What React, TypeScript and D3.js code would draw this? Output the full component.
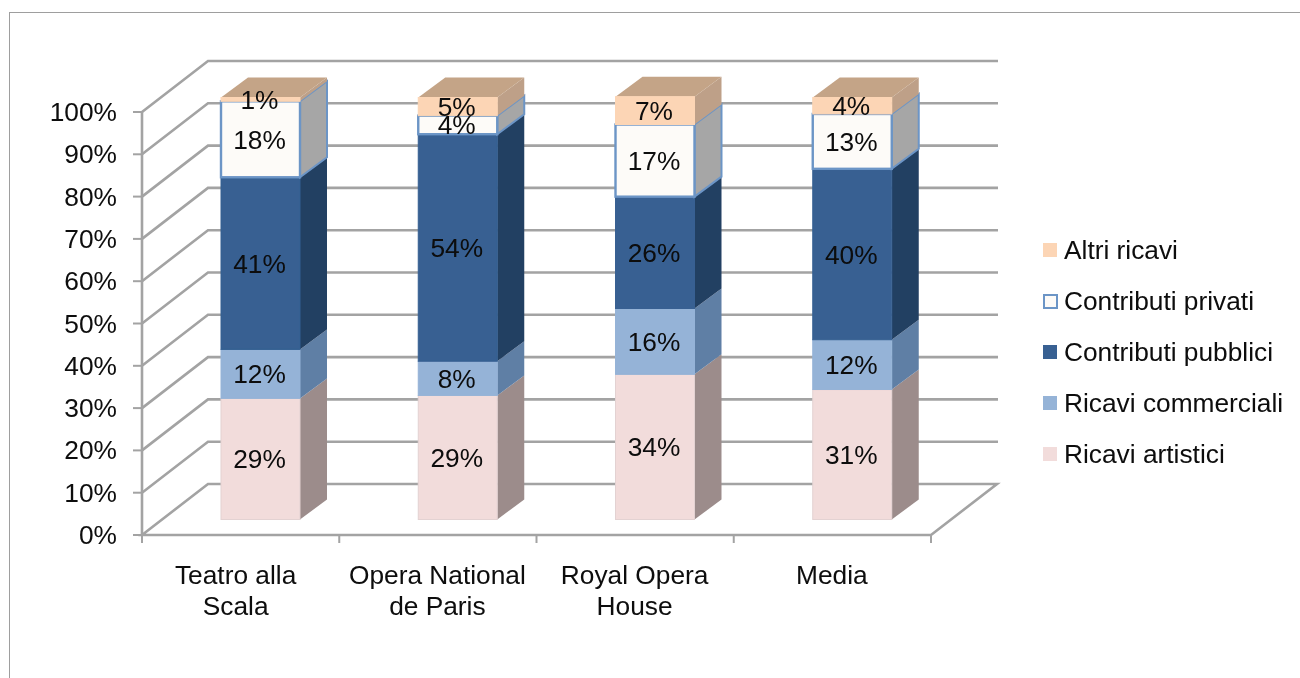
import React from "react";
import * as d3 from "d3";

const categories = [["Teatro alla", "Scala"], ["Opera National", "de Paris"], ["Royal Opera", "House"], ["Media"]];
const yTicks = [0, 10, 20, 30, 40, 50, 60, 70, 80, 90, 100];

const ricaviArtistici = [28.7, 29.4, 34.4, 30.8];
const ricaviCommerciali = [11.6, 8.1, 15.6, 11.8];
const contributiPubblici = [40.8, 53.8, 26.5, 40.5];
const contributiPrivati = [18.0, 4.4, 17.1, 13.0];
const altriRicavi = [0.9, 4.3, 6.6, 3.9];

const labelsArtistici = ["29%", "29%", "34%", "31%"];
const labelsCommerciali = ["12%", "8%", "16%", "12%"];
const labelsPubblici = ["41%", "54%", "26%", "40%"];
const labelsPrivati = ["18%", "4%", "17%", "13%"];
const labelsAltri = ["1%", "5%", "7%", "4%"];

const series = [
  { name: "Ricavi artistici", values: ricaviArtistici, labels: labelsArtistici, front: "#F2DCDB", side: "#9C8C8B", top: "#C4B0AF", stroke: "#E3D2D2" },
  { name: "Ricavi commerciali", values: ricaviCommerciali, labels: labelsCommerciali, front: "#95B3D7", side: "#5F7FA5", top: "#7090B5", stroke: "#95B3D7" },
  { name: "Contributi pubblici", values: contributiPubblici, labels: labelsPubblici, front: "#376092", side: "#233F62", top: "#2A4A72", stroke: "#376092" },
  { name: "Contributi privati", values: contributiPrivati, labels: labelsPrivati, front: "#FDFBF8", side: "#A6A6A6", top: "#C0C0C0", stroke: "#6C95C6" },
  { name: "Altri ricavi", values: altriRicavi, labels: labelsAltri, front: "#FCD5B5", side: "#BEA088", top: "#C4A487", stroke: "#FCD5B5" },
];

const FONT = "'Liberation Sans', Arial, sans-serif";
const TXT = "#0a0a0a";
const GRID = "#a3a3a3";

const y = d3.scaleLinear().domain([0, 100]).range([535, 112]);
const x = d3.scaleLinear().domain([0, 4]).range([142, 931]);
const wallDx = 66;
const wallDy = -51;
const barY = d3.scaleLinear().domain([0, 100]).range([519.5, 97.5]);
const barLeft = d3.scaleLinear().domain([0, 4]).range([221, 1010]);
const barW = 79;
const depthX = 27;
const depthY = -20;

const poly = (pts: number[][]) => (d3.line()(pts as [number, number][]) as string) + "Z";

export default function App() {
  const stacks = categories.map((_, c) => {
    let acc = 0;
    return series.map((s) => {
      const y0 = acc;
      acc += s.values[c];
      return { s, y0, y1: acc, label: s.labels[c] };
    });
  });
  return (
    <svg width={1300} height={678} style={{ position: "absolute", left: 0, top: 0, background: "#fff" }}>
      <g filter="url(#soft)">
        <defs>
          <filter id="soft" x="0" y="0" width="100%" height="100%">
            <feGaussianBlur stdDeviation="0.35" />
          </filter>
        </defs>
        <path d="M1300,12 H9 V678" fill="none" stroke="#9e9e9e" strokeWidth={2} />
        {yTicks.map((t) => (
          <g key={t} stroke={GRID} strokeWidth={2.6} fill="none">
            {t > 0 && <path d={`M${x(0)},${y(t)} L${x(0) + wallDx},${y(t) + wallDy} H${x(4) + wallDx + 1}`} />}
            <line x1={133} x2={x(0)} y1={y(t)} y2={y(t)} strokeWidth={2} />
          </g>
        ))}
        <path
          d={`M${x(0)},${y(0)} L${x(0) + wallDx},${y(0) + wallDy} H${x(4) + wallDx} L${x(4)},${y(0)} Z`}
          fill="none"
          stroke={GRID}
          strokeWidth={2.6}
        />
        <line x1={x(0)} x2={x(0)} y1={y(100)} y2={y(0)} stroke={GRID} strokeWidth={2.6} />
        {[0, 1, 2, 3, 4].map((i) => (
          <line key={i} x1={x(i)} x2={x(i)} y1={y(0)} y2={543} stroke={GRID} strokeWidth={2} />
        ))}
        {stacks.map((stack, c) => {
          const l = barLeft(c);
          const r = l + barW;
          return (
            <g key={c}>
              {stack.map(({ s, y0, y1 }, k) => {
                const a = barY(y0);
                const b = barY(y1);
                const isPriv = s.name === "Contributi privati";
                return (
                  <g key={k}>
                    <path
                      d={poly([[r, a], [r + depthX, a + depthY], [r + depthX, b + depthY], [r, b]])}
                      fill={s.side}
                      stroke={isPriv ? s.stroke : "none"}
                      strokeWidth={isPriv ? 2 : 0}
                    />
                    {k === stack.length - 1 && (
                      <path d={poly([[l, b], [l + depthX, b + depthY], [r + depthX, b + depthY], [r, b]])} fill={s.top} />
                    )}
                    <rect
                      x={l}
                      y={b}
                      width={barW}
                      height={a - b}
                      fill={s.front}
                      stroke={s.stroke}
                      strokeWidth={isPriv ? 2.4 : 1}
                    />
                  </g>
                );
              })}
            </g>
          );
        })}
        <g fontFamily={FONT} fontSize={26.3} fill={TXT}>
          {stacks.map((stack, c) =>
            stack.map(({ y0, y1, label }, k) => (
              <text key={`${c}-${k}`} x={barLeft(c) + barW / 2 - 1} y={(barY(y0) + barY(y1)) / 2 + 9.5} textAnchor="middle">
                {label}
              </text>
            ))
          )}
          {yTicks.map((t) => (
            <text key={t} x={117} y={y(t) + 9} textAnchor="end">
              {t}%
            </text>
          ))}
          {categories.map((lines, c) => (
            <text key={c} textAnchor="middle">
              {lines.map((ln, i) => (
                <tspan key={i} x={x(c + 0.5) + (c === 0 ? -5 : -0.5)} y={584 + i * 31}>
                  {ln}
                </tspan>
              ))}
            </text>
          ))}
          {[...series].reverse().map((s, i) => {
            const ly = 243 + i * 51;
            const isPriv = s.name === "Contributi privati";
            return (
              <g key={s.name}>
                <rect
                  x={isPriv ? 1044 : 1043}
                  y={isPriv ? ly + 1 : ly}
                  width={isPriv ? 13 : 14}
                  height={isPriv ? 13 : 14}
                  fill={s.front}
                  stroke={isPriv ? s.stroke : "none"}
                  strokeWidth={isPriv ? 2 : 0}
                />
                <text x={1064} y={ly + 16}>
                  {s.name}
                </text>
              </g>
            );
          })}
        </g>
      </g>
    </svg>
  );
}
